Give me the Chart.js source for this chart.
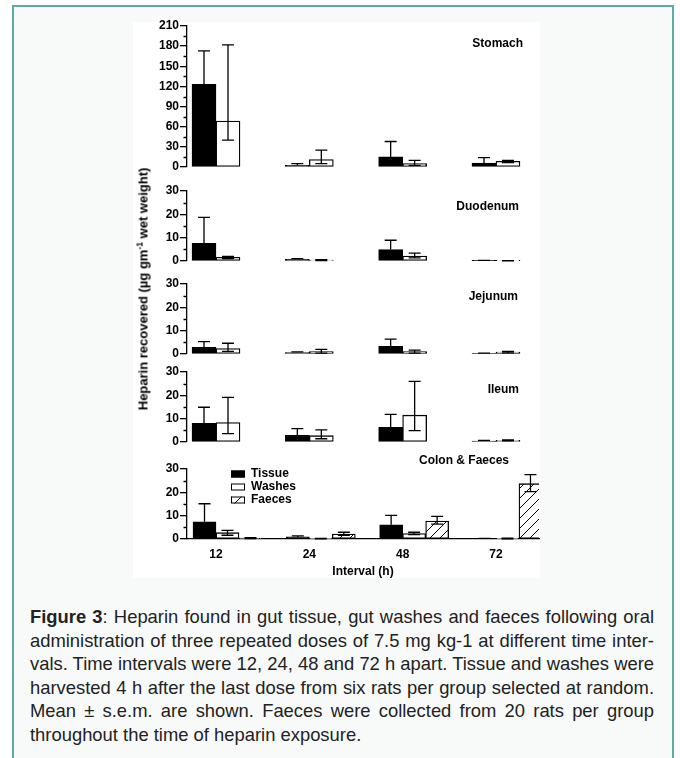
<!DOCTYPE html>
<html>
<head>
<meta charset="utf-8">
<script src="https://cdn.jsdelivr.net/npm/chart.js@4.4.1/dist/chart.umd.min.js"></script>
<style>
    html, body { margin: 0; padding: 0; background: #fff; width: 680px; height: 758px; overflow: hidden; }
    #frame { position: absolute; left: 12px; top: 5px; width: 662px; height: 800px; box-sizing: border-box;
             border: 2px solid #5fa9a9; background: #f8fafa; }
    #plot { position: absolute; left: 133px; top: 22px; width: 407px; height: 556px; background: #fff; }
    canvas.panel { position: absolute; }
    #ytitle { position: absolute; left: 143px; top: 289px; transform: translate(-50%, -50%) rotate(-90deg);
              font: bold 13px 'Liberation Sans', Arial, sans-serif; color: #000; white-space: nowrap; }
    #ytitle sup { font-size: 0.65em; line-height: 0; vertical-align: 0.55em; }
    #caption { position: absolute; left: 30px; top: 605px; width: 624px;
               font: 18.4px 'Liberation Sans', Arial, sans-serif; color: #222; }
    #caption .ln { height: 23.5px; line-height: 23.5px; text-align: justify; text-align-last: justify; }
    #caption .ln.last { text-align: left; text-align-last: left; }
</style>
</head>
<body>
<div id="frame"></div>
<div id="plot"></div>
<canvas class="panel" id="panel0"></canvas>
<canvas class="panel" id="panel1"></canvas>
<canvas class="panel" id="panel2"></canvas>
<canvas class="panel" id="panel3"></canvas>
<canvas class="panel" id="panel4"></canvas>
<div id="ytitle">Heparin recovered (µg gm<sup>-1</sup> wet weight)</div>
<div id="caption">
    <div class="ln"><b>Figure 3</b>: Heparin found in gut tissue, gut washes and faeces following oral</div>
    <div class="ln">administration of three repeated doses of 7.5 mg kg-1 at different time inter-</div>
    <div class="ln">vals. Time intervals were 12, 24, 48 and 72 h apart. Tissue and washes were</div>
    <div class="ln">harvested 4 h after the last dose from six rats per group selected at random.</div>
    <div class="ln">Mean ± s.e.m. are shown. Faeces were collected from 20 rats per group</div>
    <div class="ln last">throughout the time of heparin exposure.</div>
</div>
<script>
// Datos
const intervals = ['12', '24', '48', '72'];
const panelNames = ['Stomach', 'Duodenum', 'Jejunum', 'Ileum', 'Colon & Faeces'];
const yMax = [210, 30, 30, 30, 30];
const yStep = [30, 10, 10, 10, 10];

// Stomach
const stomachTissue = [123, 2.5, 15, 6];
const stomachTissueHi = [173, 5, 38, 14];
const stomachWashes = [68.5, 11, 5, 8.5];
const stomachWashesHi = [182, 25, 10, 10];
const stomachWashesLo = [40, 5, 2.5, 6.5];

// Duodenum
const duodenumTissue = [7.6, 0.7, 4.9, 0.15];
const duodenumTissueHi = [18.7, 1.0, 8.9, 0.3];
const duodenumWashes = [1.6, 0.4, 2.1, 0.1];
const duodenumWashesHi = [2.0, 0.6, 3.4, 0.2];
const duodenumWashesLo = [1.0, 0.2, 1.3, 0.05];

// Jejunum
const jejunumTissue = [2.9, 0.6, 3.3, 0.2];
const jejunumTissueHi = [5.3, 0.9, 6.4, 0.4];
const jejunumWashes = [2.3, 1.0, 1.0, 0.8];
const jejunumWashesHi = [4.6, 2.0, 1.7, 1.1];
const jejunumWashesLo = [1.1, 0.4, 0.4, 0.5];

// Ileum
const ileumTissue = [8.0, 2.9, 6.3, 0.4];
const ileumTissueHi = [14.9, 5.7, 11.8, 0.7];
const ileumWashes = [8.3, 2.7, 11.5, 0.7];
const ileumWashesHi = [19.1, 5.2, 26, 0.9];
const ileumWashesLo = [3.6, 1.4, 4.9, 0.5];

// Colon & Faeces
const colonTissue = [7.4, 0.9, 6.1, 0.2];
const colonTissueHi = [15.1, 1.3, 10.1, 0.3];
const colonWashes = [2.7, 0.2, 2.3, 0.2];
const colonWashesHi = [3.7, 0.3, 2.9, 0.4];
const colonWashesLo = [1.6, 0.1, 1.9, 0.1];
const faeces = [0.4, 2.1, 7.7, 23.7];
const faecesHi = [0.6, 2.9, 9.7, 27.6];
const faecesLo = [0.2, 1.6, 6.4, 20.3];

// Posiciones de cada panel en la pagina (top = pixel del maximo, zero = pixel del 0)
const panelLayout = [
    { top: 26, zero: 167, titleX: 523, titleY: 44 },
    { top: 191, zero: 261, titleX: 519, titleY: 207 },
    { top: 284, zero: 354, titleX: 518, titleY: 297 },
    { top: 372, zero: 442, titleX: 519, titleY: 390 },
    { top: 469, zero: 539, titleX: 509, titleY: 461 }
];
const canvasLeft = 133;
const canvasWidth = 407;

Chart.defaults.font.family = "'Liberation Sans', Arial, sans-serif";
Chart.defaults.font.size = 12;
Chart.defaults.font.weight = 'bold';
Chart.defaults.color = '#000';

function hatchPattern() {
    const c = document.createElement('canvas');
    c.width = 10; c.height = 10;
    const g = c.getContext('2d');
    g.fillStyle = '#fff';
    g.fillRect(0, 0, 10, 10);
    g.strokeStyle = '#000';
    g.lineWidth = 1;
    g.beginPath();
    g.moveTo(0, 10); g.lineTo(10, 0);
    g.moveTo(-5, 5); g.lineTo(5, -5);
    g.moveTo(5, 15); g.lineTo(15, 5);
    g.stroke();
    return g.createPattern(c, 'repeat');
}

// Barras de error (asimetricas)
const errorBarPlugin = {
    id: 'errorBars',
    afterDatasetsDraw(chart) {
        const ctx = chart.ctx;
        const yScale = chart.scales.y;
        ctx.save();
        ctx.strokeStyle = '#000';
        ctx.lineWidth = 1.3;
        chart.data.datasets.forEach((ds, di) => {
            if (!ds.errHi) return;
            const meta = chart.getDatasetMeta(di);
            meta.data.forEach((bar, i) => {
                const yHi = yScale.getPixelForValue(ds.errHi[i]);
                const yLo = yScale.getPixelForValue(ds.errLo ? ds.errLo[i] : ds.data[i].y);
                const half = 6;
                ctx.beginPath();
                ctx.moveTo(bar.x, yLo);
                ctx.lineTo(bar.x, yHi);
                ctx.moveTo(bar.x - half, yHi);
                ctx.lineTo(bar.x + half, yHi);
                if (ds.errLo) {
                    ctx.moveTo(bar.x - half, yLo);
                    ctx.lineTo(bar.x + half, yLo);
                }
                ctx.stroke();
            });
        });
        ctx.restore();
    }
};

// Marcas menores del eje y
const minorTickPlugin = {
    id: 'minorTicks',
    afterDraw(chart, args, opts) {
        const y = chart.scales.y;
        const ctx = chart.ctx;
        ctx.save();
        ctx.strokeStyle = '#000';
        ctx.lineWidth = 1.3;
        ctx.beginPath();
        for (let v = opts.step / 2; v < y.max; v += opts.step) {
            const py = Math.round(y.getPixelForValue(v)) + 0.5;
            ctx.moveTo(y.right - 3.5, py);
            ctx.lineTo(y.right, py);
        }
        ctx.stroke();
        ctx.restore();
    }
};

// Nombre del panel
const panelTitlePlugin = {
    id: 'panelTitle',
    afterDraw(chart, args, opts) {
        const ctx = chart.ctx;
        ctx.save();
        ctx.font = "bold 12px 'Liberation Sans', Arial, sans-serif";
        ctx.fillStyle = '#000';
        ctx.textAlign = 'right';
        ctx.textBaseline = 'middle';
        ctx.fillText(opts.text, opts.x, opts.y);
        ctx.restore();
    }
};

// Leyenda dentro del panel de colon
const insideLegendPlugin = {
    id: 'insideLegend',
    afterDraw(chart, args, opts) {
        if (!opts.show) return;
        const ctx = chart.ctx;
        ctx.save();
        ctx.font = "bold 12px 'Liberation Sans', Arial, sans-serif";
        ctx.textBaseline = 'middle';
        ctx.textAlign = 'left';
        let row = 0;
        chart.data.datasets.forEach(ds => {
            if (!ds.label) return;
            const cy = opts.y + row * opts.gap;
            ctx.fillStyle = ds.backgroundColor;
            ctx.fillRect(opts.x, cy - 3.5, 14, 7);
            ctx.strokeStyle = '#000';
            ctx.lineWidth = 1;
            ctx.strokeRect(opts.x + 0.5, cy - 3, 13, 6);
            ctx.fillStyle = '#000';
            ctx.fillText(ds.label, opts.x + 20, cy);
            row++;
        });
        ctx.restore();
    }
};

function pts(values) {
    return values.map((v, i) => ({ x: i, y: v }));
}

function barSet(label, values, color, hi, lo, thickness) {
    return {
        label: label,
        data: pts(values),
        backgroundColor: color,
        borderColor: '#000',
        borderWidth: 1.3,
        borderSkipped: false,
        barThickness: thickness,
        errHi: hi,
        errLo: lo
    };
}

function makePanel(index, datasets) {
    const lay = panelLayout[index];
    const isColon = index === panelLayout.length - 1;
    const padTop = isColon ? 14 : 12;
    const padBottom = isColon ? 0 : 10;
    const xAxisHeight = isColon ? 40 : 0;
    const canvas = document.getElementById('panel' + index);
    const top = lay.top - padTop;
    const height = (lay.zero - lay.top) + padTop + padBottom + xAxisHeight;
    canvas.width = canvasWidth;
    canvas.height = height;
    canvas.style.left = canvasLeft + 'px';
    canvas.style.top = top + 'px';
    canvas.style.width = canvasWidth + 'px';
    canvas.style.height = height + 'px';

    return new Chart(canvas.getContext('2d'), {
        type: 'bar',
        data: { datasets: datasets },
        options: {
            responsive: false,
            animation: false,
            events: [],
            layout: { padding: { top: padTop, bottom: padBottom, left: 0, right: 1 } },
            plugins: {
                legend: { display: false },
                tooltip: { enabled: false },
                minorTicks: { step: yStep[index] },
                panelTitle: { text: panelNames[index], x: lay.titleX - canvasLeft, y: lay.titleY - top },
                insideLegend: { show: isColon, x: 231 - canvasLeft, y: 474 - top, gap: 13 }
            },
            scales: {
                x: {
                    type: 'linear',
                    display: isColon,
                    offset: false,
                    min: -0.3107,
                    max: 3.461,
                    afterBuildTicks: s => { s.ticks = intervals.map((_, i) => ({ value: i })); },
                    afterFit: s => { s.height = xAxisHeight; },
                    grid: { display: false, drawTicks: false, offset: false },
                    border: { display: true, color: '#000', width: 1.3 },
                    ticks: { padding: 8, maxRotation: 0, callback: v => intervals[v] },
                    title: { display: true, text: 'Interval (h)', padding: 0, font: { size: 12, weight: 'bold' } }
                },
                y: {
                    min: 0,
                    max: yMax[index],
                    afterFit: s => { s.width = 54; },
                    ticks: { stepSize: yStep[index], padding: 1 },
                    grid: { display: true, drawOnChartArea: false, drawTicks: true, tickLength: 7, color: '#000', lineWidth: 1.3 },
                    border: { display: true, color: '#000', width: 1.3 }
                }
            }
        },
        plugins: [errorBarPlugin, minorTickPlugin, panelTitlePlugin, insideLegendPlugin]
    });
}

document.addEventListener('DOMContentLoaded', function() {
    makePanel(0, [
        barSet('Tissue', stomachTissue, '#000', stomachTissueHi, null, 24),
        barSet('Washes', stomachWashes, '#fff', stomachWashesHi, stomachWashesLo, 24)
    ]);
    makePanel(1, [
        barSet('Tissue', duodenumTissue, '#000', duodenumTissueHi, null, 24),
        barSet('Washes', duodenumWashes, '#fff', duodenumWashesHi, duodenumWashesLo, 24)
    ]);
    makePanel(2, [
        barSet('Tissue', jejunumTissue, '#000', jejunumTissueHi, null, 24),
        barSet('Washes', jejunumWashes, '#fff', jejunumWashesHi, jejunumWashesLo, 24)
    ]);
    makePanel(3, [
        barSet('Tissue', ileumTissue, '#000', ileumTissueHi, null, 24),
        barSet('Washes', ileumWashes, '#fff', ileumWashesHi, ileumWashesLo, 24)
    ]);
    // El primer conjunto vacio desplaza el grupo de tres barras a la derecha
    makePanel(4, [
        { label: '', data: intervals.map((_, i) => ({ x: i, y: null })), barThickness: 23 },
        barSet('Tissue', colonTissue, '#000', colonTissueHi, null, 23),
        barSet('Washes', colonWashes, '#fff', colonWashesHi, colonWashesLo, 23),
        barSet('Faeces', faeces, hatchPattern(), faecesHi, faecesLo, 23)
    ]);
});
</script>
</body>
</html>
